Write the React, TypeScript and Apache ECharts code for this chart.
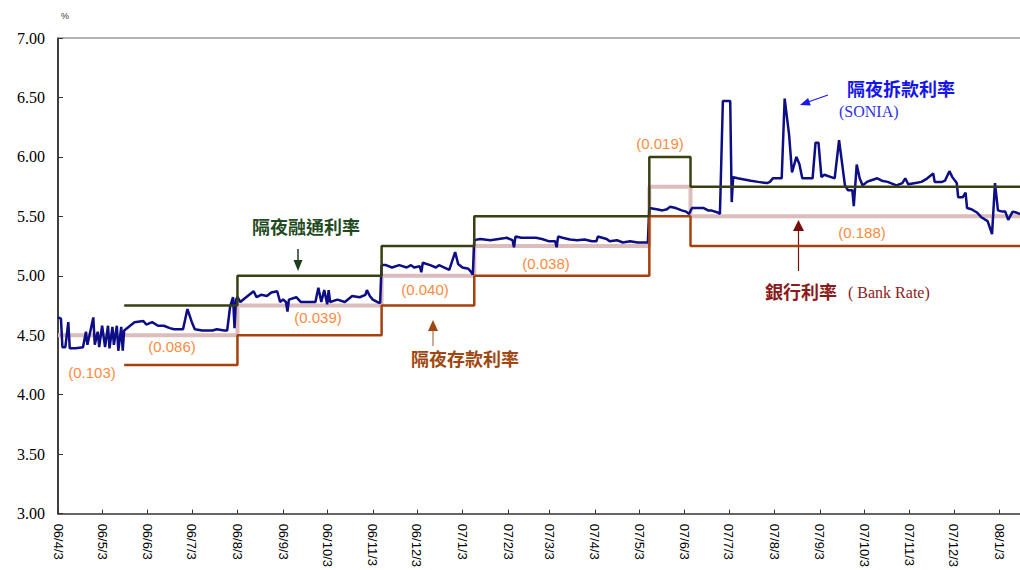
import React, { useEffect, useRef } from 'react';
import * as echarts from 'echarts';

const TICK_DATES = [
  '2006-04-03', '2006-05-03', '2006-06-03', '2006-07-03', '2006-08-03', '2006-09-03',
  '2006-10-03', '2006-11-03', '2006-12-03', '2007-01-03', '2007-02-03', '2007-03-03',
  '2007-04-03', '2007-05-03', '2007-06-03', '2007-07-03', '2007-08-03', '2007-09-03',
  '2007-10-03', '2007-11-03', '2007-12-03', '2008-01-03',
];
const TICK_LABELS = [
  '06/4/3', '06/5/3', '06/6/3', '06/7/3', '06/8/3', '06/9/3', '06/10/3', '06/11/3',
  '06/12/3', '07/1/3', '07/2/3', '07/3/3', '07/4/3', '07/5/3', '07/6/3', '07/7/3',
  '07/8/3', '07/9/3', '07/10/3', '07/11/3', '07/12/3', '08/1/3',
];
const X_MIN = '2006-04-03';
const X_MAX = '2008-01-17';

const Y_TICKS_MIN = 3;
const Y_TICKS_MAX = 7;
const Y_INTERVAL = 0.5;

const CORRIDOR_DATES = ['2006-05-18', '2006-08-03', '2006-11-09', '2007-01-11', '2007-05-10', '2007-06-07', '2008-01-17'];
const LENDING_RATE = [4.75, 5.0, 5.25, 5.5, 6.0, 5.75, 5.75];
const DEPOSIT_RATE = [4.25, 4.5, 4.75, 5.0, 5.5, 5.25, 5.25];
const BANK_DATES = ['2006-04-03', '2006-08-03', '2006-11-09', '2007-01-11', '2007-05-10', '2007-06-07', '2008-01-17'];
const BANK_RATE = [4.5, 4.75, 5.0, 5.25, 5.75, 5.5, 5.5];

const SPREAD_LABELS = ['(0.103)', '(0.086)', '(0.039)', '(0.040)', '(0.038)', '(0.019)', '(0.188)'];

const SONIA_DATES = [
  '2006-04-03', '2006-04-05', '2006-04-06', '2006-04-08', '2006-04-10', '2006-04-11', '2006-04-15',
  '2006-04-20', '2006-04-22', '2006-04-23', '2006-04-27', '2006-04-28', '2006-04-30', '2006-05-01',
  '2006-05-03', '2006-05-05', '2006-05-07', '2006-05-08', '2006-05-10', '2006-05-11', '2006-05-13',
  '2006-05-14', '2006-05-16', '2006-05-17',
  '2006-05-18', '2006-05-25', '2006-05-31', '2006-06-02', '2006-06-06', '2006-06-10', '2006-06-14',
  '2006-06-18', '2006-06-21', '2006-06-27', '2006-06-30', '2006-07-03', '2006-07-05', '2006-07-10',
  '2006-07-17', '2006-07-20', '2006-07-25', '2006-07-27', '2006-07-29', '2006-07-31', '2006-08-01',
  '2006-08-02',
  '2006-08-03', '2006-08-05', '2006-08-07', '2006-08-14', '2006-08-16', '2006-08-19', '2006-08-23',
  '2006-08-26', '2006-08-30', '2006-09-01', '2006-09-03', '2006-09-05', '2006-09-06', '2006-09-07',
  '2006-09-12', '2006-09-15', '2006-09-20', '2006-09-25', '2006-09-27', '2006-09-29', '2006-10-01',
  '2006-10-03', '2006-10-04', '2006-10-05', '2006-10-10', '2006-10-15', '2006-10-20', '2006-10-25',
  '2006-10-29', '2006-10-30', '2006-11-01', '2006-11-03', '2006-11-06', '2006-11-08',
  '2006-11-09', '2006-11-12', '2006-11-16', '2006-11-21', '2006-11-26', '2006-11-29', '2006-12-01',
  '2006-12-05', '2006-12-06', '2006-12-07', '2006-12-12', '2006-12-16', '2006-12-18', '2006-12-25',
  '2006-12-29', '2006-12-31', '2007-01-03', '2007-01-07', '2007-01-09', '2007-01-10',
  '2007-01-11', '2007-01-15', '2007-01-22', '2007-01-31', '2007-02-02', '2007-02-06', '2007-02-07',
  '2007-02-08', '2007-02-12', '2007-02-22', '2007-02-26', '2007-03-03', '2007-03-07', '2007-03-08',
  '2007-03-09', '2007-03-12', '2007-03-17', '2007-03-22', '2007-03-27', '2007-04-01', '2007-04-04',
  '2007-04-05', '2007-04-08', '2007-04-11', '2007-04-13', '2007-04-18', '2007-04-22', '2007-04-27',
  '2007-05-02', '2007-05-06', '2007-05-09',
  '2007-05-10', '2007-05-15', '2007-05-19', '2007-05-22', '2007-05-24', '2007-05-28', '2007-06-01',
  '2007-06-04', '2007-06-06', '2007-06-08', '2007-06-12', '2007-06-16', '2007-06-19', '2007-06-21',
  '2007-06-26', '2007-06-27', '2007-06-29', '2007-07-03', '2007-07-04', '2007-07-05', '2007-07-06',
  '2007-07-09', '2007-07-18', '2007-07-23', '2007-07-29', '2007-07-31', '2007-08-02', '2007-08-08',
  '2007-08-10', '2007-08-13', '2007-08-15', '2007-08-18', '2007-08-20', '2007-08-22', '2007-08-29',
  '2007-08-31', '2007-09-02', '2007-09-04', '2007-09-06', '2007-09-13', '2007-09-16', '2007-09-20',
  '2007-09-22', '2007-09-25', '2007-09-26', '2007-09-28', '2007-09-30', '2007-10-02', '2007-10-05',
  '2007-10-07', '2007-10-12', '2007-10-15', '2007-10-19', '2007-10-25', '2007-10-29', '2007-10-31',
  '2007-11-02', '2007-11-07', '2007-11-11', '2007-11-15', '2007-11-19', '2007-11-20', '2007-11-25',
  '2007-11-27', '2007-11-30', '2007-12-02', '2007-12-05', '2007-12-06', '2007-12-09', '2007-12-11',
  '2007-12-12', '2007-12-15', '2007-12-19', '2007-12-22', '2007-12-26', '2007-12-29', '2007-12-31',
  '2008-01-02', '2008-01-05', '2008-01-07', '2008-01-09', '2008-01-12', '2008-01-15', '2008-01-17',
];
const SONIA_VALUES = [
  4.65, 4.64, 4.4, 4.4, 4.61, 4.39, 4.39,
  4.4, 4.53, 4.42, 4.65, 4.42, 4.53, 4.4,
  4.58, 4.4, 4.58, 4.39, 4.57, 4.42, 4.58,
  4.37, 4.57, 4.37,
  4.54, 4.61, 4.62, 4.59, 4.61, 4.58, 4.58,
  4.56, 4.55, 4.55, 4.72, 4.61, 4.55, 4.54,
  4.54, 4.55, 4.54, 4.54, 4.74, 4.82, 4.56,
  4.8,
  4.82, 4.78, 4.8, 4.87, 4.82, 4.84, 4.83,
  4.86, 4.87, 4.78, 4.8, 4.78, 4.7, 4.8,
  4.82, 4.78, 4.78, 4.78, 4.9, 4.78, 4.88,
  4.76, 4.88, 4.78, 4.8, 4.78, 4.83, 4.82,
  4.84, 4.88, 4.83, 4.8, 4.78, 4.77,
  5.09, 5.09, 5.07, 5.09, 5.07, 5.09, 5.07,
  5.08, 5.03, 5.11, 5.09, 5.07, 5.09, 5.05,
  5.2, 5.1, 5.07, 5.06, 5.03, 5.01,
  5.3, 5.31, 5.3, 5.315, 5.32, 5.3, 5.24,
  5.33, 5.32, 5.32, 5.31, 5.29, 5.29, 5.24,
  5.33, 5.32, 5.305, 5.3, 5.305, 5.29, 5.29,
  5.33, 5.32, 5.31, 5.29, 5.3, 5.28, 5.29,
  5.28, 5.28, 5.28,
  5.57, 5.56, 5.55, 5.56, 5.58, 5.57, 5.55,
  5.54, 5.52, 5.57, 5.57, 5.57, 5.55, 5.55,
  5.53, 5.52, 6.47, 6.47, 6.47, 5.62, 5.83,
  5.82, 5.8, 5.79, 5.78, 5.79, 5.82, 5.82,
  6.49, 6.19, 5.87, 6.0, 5.94, 5.82, 5.82,
  6.12, 6.12, 5.83, 5.85, 5.82, 6.14, 5.76,
  5.72, 5.72, 5.585, 5.935, 5.82, 5.76, 5.79,
  5.8, 5.82, 5.8, 5.79, 5.76, 5.78, 5.82,
  5.77, 5.78, 5.79, 5.82, 5.86, 5.79, 5.79,
  5.8, 5.88, 5.83, 5.78, 5.66, 5.66, 5.7,
  5.57, 5.56, 5.53, 5.49, 5.46, 5.35, 5.78,
  5.55, 5.54, 5.54, 5.47, 5.54, 5.53, 5.52,
];

const toTs = (s: string) => {
  const [y, m, d] = s.split('-').map(Number);
  return Date.UTC(y, m - 1, d);
};

const pairs = (dates: string[], vals: number[]) => dates.map((d, i) => [toTs(d), vals[i]]);

const CJK = '"Noto Sans CJK TC", "Noto Sans CJK SC", sans-serif';
const SERIF = '"Liberation Serif", "DejaVu Serif", serif';
const SANS = '"Liberation Sans", Arial, sans-serif';

export default function App() {
  const ref = useRef<HTMLDivElement>(null);
  useEffect(() => {
    if (!ref.current) return;
    const chart = echarts.init(ref.current, undefined, { renderer: 'svg' });
    const tickTs = TICK_DATES.map(toTs);
    const orange = '#ff8a3d';
    const spreadPos = [
      [92, 372], [172, 346], [318, 317], [425, 289], [546, 263], [660, 143], [862, 232],
    ];
    const option: any = {
      animation: false,
      backgroundColor: '#fff',
      grid: { left: 58, right: 0, top: 38, bottom: 55, containLabel: false },
      xAxis: [
        {
          type: 'value',
          min: toTs(X_MIN),
          max: toTs(X_MAX),
          axisLine: { show: true, lineStyle: { color: '#333', width: 1.5 } },
          axisTick: { show: true, inside: true, length: 4, customValues: tickTs, lineStyle: { color: '#333' } },
          axisLabel: {
            customValues: tickTs,
            rotate: -90,
            margin: 10,
            color: '#000',
            fontFamily: SANS,
            fontSize: 13,
            formatter: (v: number) => {
              const i = tickTs.indexOf(v);
              return i >= 0 ? TICK_LABELS[i] : '';
            },
          },
          splitLine: { show: false },
        },
        {
          type: 'value',
          position: 'top',
          min: 0,
          max: 1,
          axisLine: { show: true, lineStyle: { color: '#999', width: 1.5 } },
          axisTick: { show: false },
          axisLabel: { show: false },
          splitLine: { show: false },
        },
      ],
      yAxis: {
        type: 'value',
        min: Y_TICKS_MIN,
        max: Y_TICKS_MAX,
        interval: Y_INTERVAL,
        axisLine: { show: true, lineStyle: { color: '#000', width: 1.5 } },
        axisTick: { show: true, inside: true, length: 5, lineStyle: { color: '#333' } },
        axisLabel: {
          color: '#000',
          fontFamily: SERIF,
          fontSize: 16,
          margin: 13,
          formatter: (v: number) => v.toFixed(2),
        },
        splitLine: { show: false },
      },
      series: [
        {
          name: '銀行利率',
          type: 'line',
          step: 'end',
          data: pairs(BANK_DATES, BANK_RATE),
          showSymbol: false,
          symbol: 'none',
          lineStyle: { color: '#dcbcbc', width: 4 },
          z: 2,
        },
        {
          name: '隔夜拆款利率',
          type: 'line',
          data: pairs(SONIA_DATES, SONIA_VALUES),
          showSymbol: false,
          symbol: 'none',
          lineStyle: { color: '#0d0d85', width: 2.5 },
          z: 3,
        },
        {
          name: '隔夜存款利率',
          type: 'line',
          step: 'end',
          data: pairs(CORRIDOR_DATES, DEPOSIT_RATE),
          showSymbol: false,
          symbol: 'none',
          lineStyle: { color: '#a3420c', width: 2.5 },
          z: 4,
        },
        {
          name: '隔夜融通利率',
          type: 'line',
          step: 'end',
          data: pairs(CORRIDOR_DATES, LENDING_RATE),
          showSymbol: false,
          symbol: 'none',
          lineStyle: { color: '#3a3f12', width: 2.5 },
          z: 4,
        },
      ],
      graphic: [
        { type: 'text', x: 61, y: 16, style: { text: '%', fontSize: 9, fontFamily: SANS, fill: '#333', verticalAlign: 'middle' } },
        ...SPREAD_LABELS.map((t, i) => ({
          type: 'text',
          x: spreadPos[i][0],
          y: spreadPos[i][1],
          style: { text: t, fontSize: 15, fontFamily: SANS, fill: orange, align: 'center', verticalAlign: 'middle' },
        })),
        { type: 'text', x: 306, y: 226, style: { text: '隔夜融通利率', fontSize: 18, fontWeight: 'bold', fontFamily: CJK, fill: '#1f4a22', align: 'center', verticalAlign: 'middle' } },
        { type: 'line', shape: { x1: 298, y1: 249, x2: 298, y2: 262 }, style: { stroke: '#1f3d1f', lineWidth: 1.5 } },
        { type: 'polygon', shape: { points: [[293.5, 260], [302.5, 260], [298, 271]] }, style: { fill: '#1f3d1f' } },
        { type: 'text', x: 465, y: 358, style: { text: '隔夜存款利率', fontSize: 18, fontWeight: 'bold', fontFamily: CJK, fill: '#a0460f', align: 'center', verticalAlign: 'middle' } },
        { type: 'line', shape: { x1: 433, y1: 330, x2: 433, y2: 346 }, style: { stroke: '#b5704a', lineWidth: 1.2 } },
        { type: 'polygon', shape: { points: [[428, 331], [438, 331], [433, 320]] }, style: { fill: '#a0460f' } },
        { type: 'text', x: 901, y: 88, style: { text: '隔夜拆款利率', fontSize: 18, fontWeight: 'bold', fontFamily: CJK, fill: '#1414ee', align: 'center', verticalAlign: 'middle' } },
        { type: 'text', x: 839, y: 111, style: { text: '(SONIA)', fontSize: 16, fontFamily: SERIF, fill: '#3030dd', verticalAlign: 'middle' } },
        { type: 'line', shape: { x1: 828, y1: 95, x2: 808, y2: 102 }, style: { stroke: '#1a1aee', lineWidth: 1.2 } },
        { type: 'polygon', shape: { points: [[800, 105], [810.8, 105.4], [808.1, 97.9]] }, style: { fill: '#1a1aee' } },
        { type: 'text', x: 801, y: 291, style: { text: '銀行利率', fontSize: 18, fontWeight: 'bold', fontFamily: CJK, fill: '#8b1a1a', align: 'center', verticalAlign: 'middle' } },
        { type: 'text', x: 848, y: 292, style: { text: '( Bank Rate)', fontSize: 16, fontFamily: SERIF, fill: '#8b1a1a', verticalAlign: 'middle' } },
        { type: 'line', shape: { x1: 798.5, y1: 229, x2: 798.5, y2: 271 }, style: { stroke: '#7a0c0c', lineWidth: 1.2 } },
        { type: 'polygon', shape: { points: [[793, 231], [804, 231], [798.5, 220]] }, style: { fill: '#7a0c0c' } },
      ],
    };
    chart.setOption(option);
    return () => chart.dispose();
  }, []);
  return (
    <div
      ref={ref}
      style={{ position: 'absolute', left: 0, top: 0, width: 1020, height: 570, background: '#fff' }}
    />
  );
}
